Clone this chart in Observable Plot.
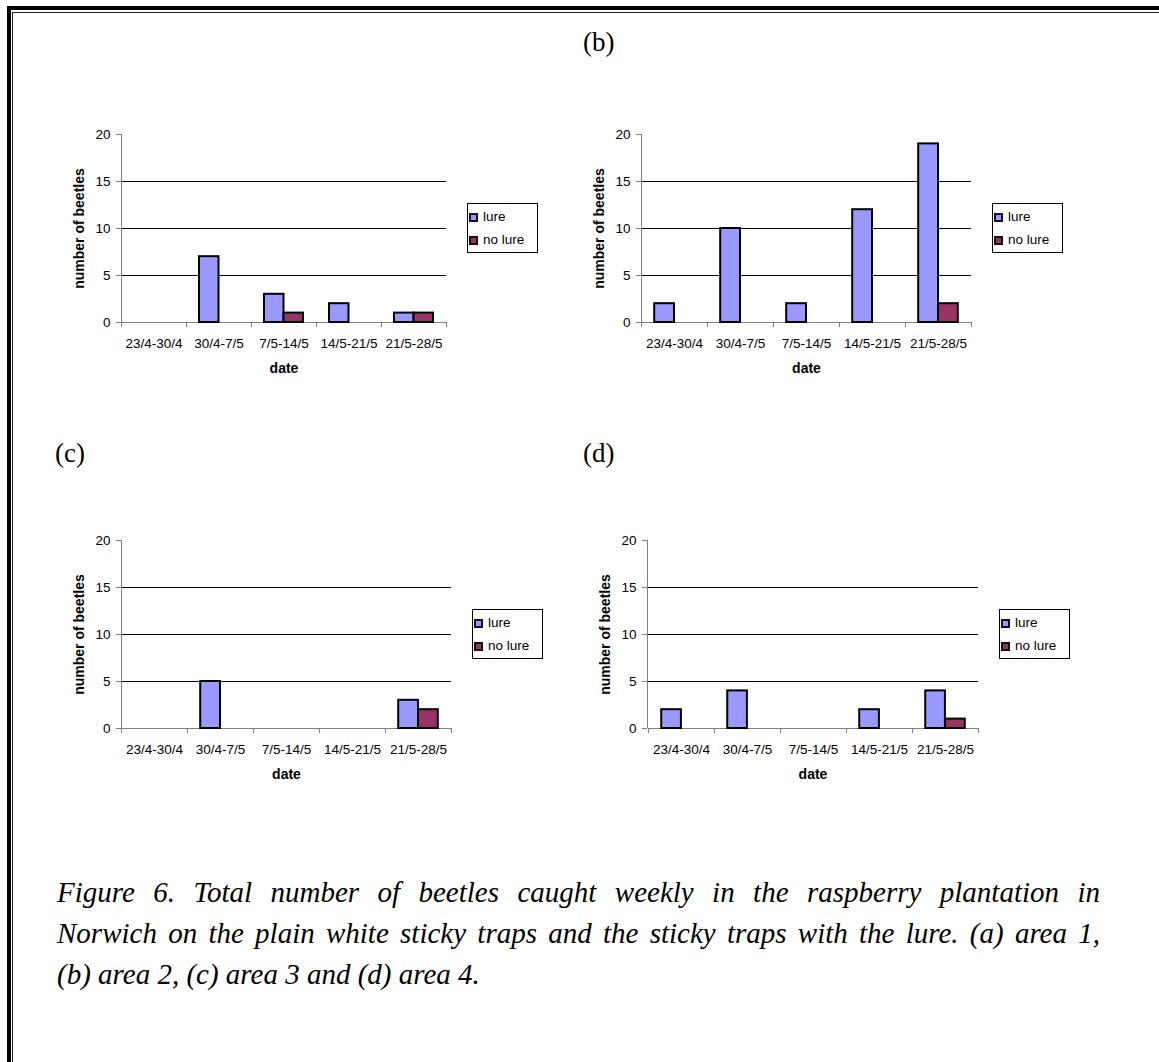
<!DOCTYPE html>
<html>
<head>
<meta charset="utf-8">
<script src="https://cdn.jsdelivr.net/npm/d3@7"></script>
<script src="https://cdn.jsdelivr.net/npm/@observablehq/plot@0.6"></script>
<style>
  html, body { margin: 0; padding: 0; background: #fff; }
  #page { position: relative; width: 1159px; height: 1062px; overflow: hidden; background: #fff;
          font-family: "Liberation Sans", Arial, sans-serif; }
  .frame-outer { position: absolute; left: 7px; top: 6px; width: 3000px; height: 3000px;
                 border: 4px solid #000; box-sizing: border-box; }
  .frame-inner { position: absolute; left: 12px; top: 12px; width: 3000px; height: 3000px;
                 border: 1px solid #222; box-sizing: border-box; }
  .panel-title { position: absolute; font-family: "Liberation Serif", "Times New Roman", serif;
                 font-size: 27px; line-height: 27px; color: #000; }
  .plot-holder { position: absolute; }
  .plot-holder svg [aria-label="y-axis tick"],
  .plot-holder svg [aria-label="x-axis tick"] { stroke: #808080; }
  .plot-holder svg [aria-label="y-axis label"],
  .plot-holder svg [aria-label="x-axis label"] { font-weight: bold; font-size: 14px; }
  .legend { position: absolute; width: 71px; height: 50px; border: 1px solid #000; box-sizing: border-box;
            background: #fff; font-size: 13.5px; color: #000; }
  .legend .item { position: absolute; left: 1px; height: 16px; line-height: 16px; white-space: nowrap; }
  .legend .sw { display: inline-block; width: 9px; height: 9px; border: 2px solid #111; box-sizing: border-box;
                vertical-align: -1px; margin-right: 5px; }
  .caption { position: absolute; left: 57px; top: 872px; width: 1043px;
             font-family: "Liberation Serif", "Times New Roman", serif; font-style: italic;
             font-size: 29px; line-height: 41px; color: #000; }
  .caption .ln { display: block; white-space: nowrap; }
  .caption .just { text-align: justify; text-align-last: justify; white-space: normal; }
</style>
</head>
<body>
<div id="page">
  <div class="frame-outer"></div>
  <div class="frame-inner"></div>
</div>
<script>
// ---------------- data ----------------
const dates = ["23/4-30/4", "30/4-7/5", "7/5-14/5", "14/5-21/5", "21/5-28/5"];
const seriesNames = ["lure", "no lure"];
const seriesColors = ["#9999FF", "#993366"];
const yTicks = [0, 5, 10, 15, 20];

const areaA_lure   = [0, 7, 3, 2, 1];
const areaA_noLure = [0, 0, 1, 0, 1];
const areaB_lure   = [2, 10, 2, 12, 19];
const areaB_noLure = [0, 0, 0, 0, 2];
const areaC_lure   = [0, 5, 0, 0, 3];
const areaC_noLure = [0, 0, 0, 0, 2];
const areaD_lure   = [2, 4, 0, 2, 4];
const areaD_noLure = [0, 0, 0, 0, 1];

const titles = {a: null, b: "(b)", c: "(c)", d: "(d)"};
const xLabel = "date";
const yLabel = "number of beetles";
const captionLines = [
  "Figure 6. Total number of beetles caught weekly in the raspberry plantation in",
  "Norwich on the plain white sticky traps and the sticky traps with the lure. (a) area 1,",
  "(b) area 2, (c) area 3 and (d) area 4."
];

// ---------------- layout ----------------
const AXIS_GRAY = "#808080";
const panels = [
  {key: "a", lure: areaA_lure, noLure: areaA_noLure, left: 121, right: 446, top: 134, bottom: 322},
  {key: "b", lure: areaB_lure, noLure: areaB_noLure, left: 641, right: 971, top: 134, bottom: 322},
  {key: "c", lure: areaC_lure, noLure: areaC_noLure, left: 121, right: 451, top: 540, bottom: 728},
  {key: "d", lure: areaD_lure, noLure: areaD_noLure, left: 647, right: 978, top: 540, bottom: 728}
];
const titlePos = {b: {left: 583, top: 29}, c: {left: 55, top: 440}, d: {left: 583, top: 440}};

const M = {left: 71, right: 6, top: 14, bottom: 60};
const page = document.getElementById("page");

function excelAxes(index, scales, values, dims) {
  const x = scales.x, y = scales.y;
  const dom = x.domain();
  const bw = typeof x.bandwidth === "function" ? x.bandwidth() : (dims.width - dims.marginLeft - dims.marginRight) / dom.length;
  const edges = dom.map(d => x(d)).concat([x(dom[dom.length - 1]) + bw]);
  const y0 = y(0), yTop = y(yTicks[yTicks.length - 1]);
  const g = d3.create("svg:g").attr("stroke", AXIS_GRAY).attr("stroke-width", 1)
    .attr("shape-rendering", "crispEdges").attr("aria-label", "axis lines");
  g.append("line").attr("x1", dims.marginLeft).attr("x2", dims.marginLeft).attr("y1", yTop).attr("y2", y0);
  g.append("line").attr("x1", edges[0]).attr("x2", edges[edges.length - 1]).attr("y1", y0).attr("y2", y0);
  for (const e of edges) g.append("line").attr("x1", e).attr("x2", e).attr("y1", y0).attr("y2", y0 + 5);
  return g.node();
}

for (const p of panels) {
  const rows = [];
  dates.forEach((d, i) => {
    rows.push({date: d, series: seriesNames[0], value: p.lure[i]});
    rows.push({date: d, series: seriesNames[1], value: p.noLure[i]});
  });
  const shown = rows.filter(r => r.value > 0);
  const plotW = p.right - p.left, plotH = p.bottom - p.top;
  const bw = plotW / dates.length;
  const edgeGap = bw * 0.2, barW = bw * 0.3;

  const svg = Plot.plot({
    width: plotW + M.left + M.right,
    height: plotH + M.top + M.bottom,
    marginLeft: M.left, marginRight: M.right, marginTop: M.top, marginBottom: M.bottom,
    style: {fontFamily: '"Liberation Sans", Arial, sans-serif', fontSize: "13.5px", color: "#000",
            background: "transparent", overflow: "visible"},
    x: {type: "band", domain: dates, padding: 0, tickSize: 0, tickPadding: 16,
        label: xLabel, labelAnchor: "center", labelOffset: 50, labelArrow: false},
    y: {domain: [yTicks[0], yTicks[yTicks.length - 1]], ticks: yTicks, tickSize: 5, tickPadding: 6,
        label: yLabel, labelAnchor: "center", labelOffset: 47, labelArrow: false},
    marks: [
      Plot.ruleY(yTicks.filter(t => t > yTicks[0] && t < yTicks[yTicks.length - 1]),
                 {stroke: "#000", strokeWidth: 1, shapeRendering: "crispEdges"}),
      excelAxes,
      Plot.barY(shown.filter(r => r.series === seriesNames[0]), {
        x: "date", y: "value", fill: seriesColors[0], stroke: "#000", strokeWidth: 2,
        insetLeft: edgeGap, insetRight: bw - edgeGap - barW
      }),
      Plot.barY(shown.filter(r => r.series === seriesNames[1]), {
        x: "date", y: "value", fill: seriesColors[1], stroke: "#000", strokeWidth: 2,
        insetLeft: edgeGap + barW, insetRight: edgeGap
      })
    ]
  });
  const holder = document.createElement("div");
  holder.className = "plot-holder";
  holder.style.left = (p.left - M.left) + "px";
  holder.style.top = (p.top - M.top) + "px";
  holder.appendChild(svg);
  page.appendChild(holder);

  // legend
  const lg = document.createElement("div");
  lg.className = "legend";
  lg.style.left = (p.right + 21) + "px";
  lg.style.top = (p.top + 69) + "px";
  seriesNames.forEach((name, i) => {
    const it = document.createElement("div");
    it.className = "item";
    it.style.top = (5 + i * 23) + "px";
    const sw = document.createElement("span");
    sw.className = "sw";
    sw.style.background = seriesColors[i];
    it.appendChild(sw);
    it.appendChild(document.createTextNode(name));
    lg.appendChild(it);
  });
  page.appendChild(lg);

  if (titles[p.key]) {
    const t = document.createElement("div");
    t.className = "panel-title";
    t.style.left = titlePos[p.key].left + "px";
    t.style.top = titlePos[p.key].top + "px";
    t.textContent = titles[p.key];
    page.appendChild(t);
  }
}

// caption
const cap = document.createElement("div");
cap.className = "caption";
captionLines.forEach((line, i) => {
  const s = document.createElement("span");
  s.className = "ln" + (i < captionLines.length - 1 ? " just" : "");
  s.textContent = line;
  cap.appendChild(s);
});
page.appendChild(cap);
</script>
</body>
</html>
